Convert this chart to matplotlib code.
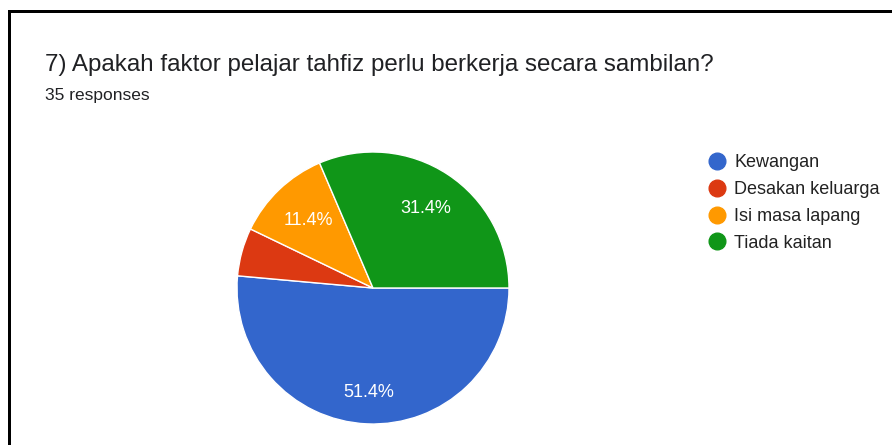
import matplotlib
matplotlib.use("Agg")
import matplotlib.pyplot as plt
from matplotlib.lines import Line2D
import numpy as np

plt.rcParams['font.family'] = ['Liberation Sans', 'DejaVu Sans']

title = "7) Apakah faktor pelajar tahfiz perlu berkerja secara sambilan?"
subtitle = "35 responses"
categories = ["Kewangan", "Desakan keluarga", "Isi masa lapang", "Tiada kaitan"]
counts = [18, 2, 4, 11]
colors = ["#3366CC", "#DC3912", "#FF9900", "#109618"]
label_dist = [0.77, 0.70, 0.69, 0.70]

W, H = 892, 445
fig = plt.figure(figsize=(W / 100, H / 100), dpi=100)
fig.patch.set_facecolor("white")

cx, cy, r = 373, 288, 136
ax = fig.add_axes([(cx - r) / W, (H - cy - r) / H, 2 * r / W, 2 * r / H])

def fmt(p):
    return f"{p:.1f}%" if p >= 10 else ""

wedges, texts, autotexts = ax.pie(
    counts, colors=colors, startangle=0, counterclock=False,
    autopct=fmt, pctdistance=0.7,
    wedgeprops=dict(edgecolor="white", linewidth=1.0),
    textprops=dict(color="white", fontsize=13),
)
for w, t, d in zip(wedges, autotexts, label_dist):
    mid = np.deg2rad((w.theta1 + w.theta2) / 2)
    t.set_position((d * np.cos(mid), d * np.sin(mid)))
    t.set_va("center")
    t.set_ha("center")
ax.set_xlim(-1, 1)
ax.set_ylim(-1, 1)
ax.set_aspect("auto")
ax.axis("off")

fig.text(45 / W, 1 - 71 / H, title, fontsize=17.4, color="#202124", va="baseline", ha="left")
fig.text(45 / W, 1 - 100 / H, subtitle, fontsize=12.5, color="#202124", va="baseline", ha="left")

handles = [Line2D([0], [0], marker="o", linestyle="", markersize=12,
                  markerfacecolor=c, markeredgecolor=c) for c in colors]
fig.legend(handles, categories, loc="upper left",
           bbox_to_anchor=(708 / W, 1 - 154 / H), frameon=False,
           fontsize=13, labelcolor="#222222", handlelength=1.0,
           handletextpad=0.45, labelspacing=0.55, borderpad=0, borderaxespad=0)

lw = 3 * 72 / 100
xl = 8.5 / W
yt = 1 - 10.5 / H
fig.add_artist(Line2D([xl, xl], [0, yt], color="black", linewidth=lw, transform=fig.transFigure))
fig.add_artist(Line2D([xl, 1], [yt, yt], color="black", linewidth=lw, transform=fig.transFigure))

fig.savefig("out.png", dpi=100)
